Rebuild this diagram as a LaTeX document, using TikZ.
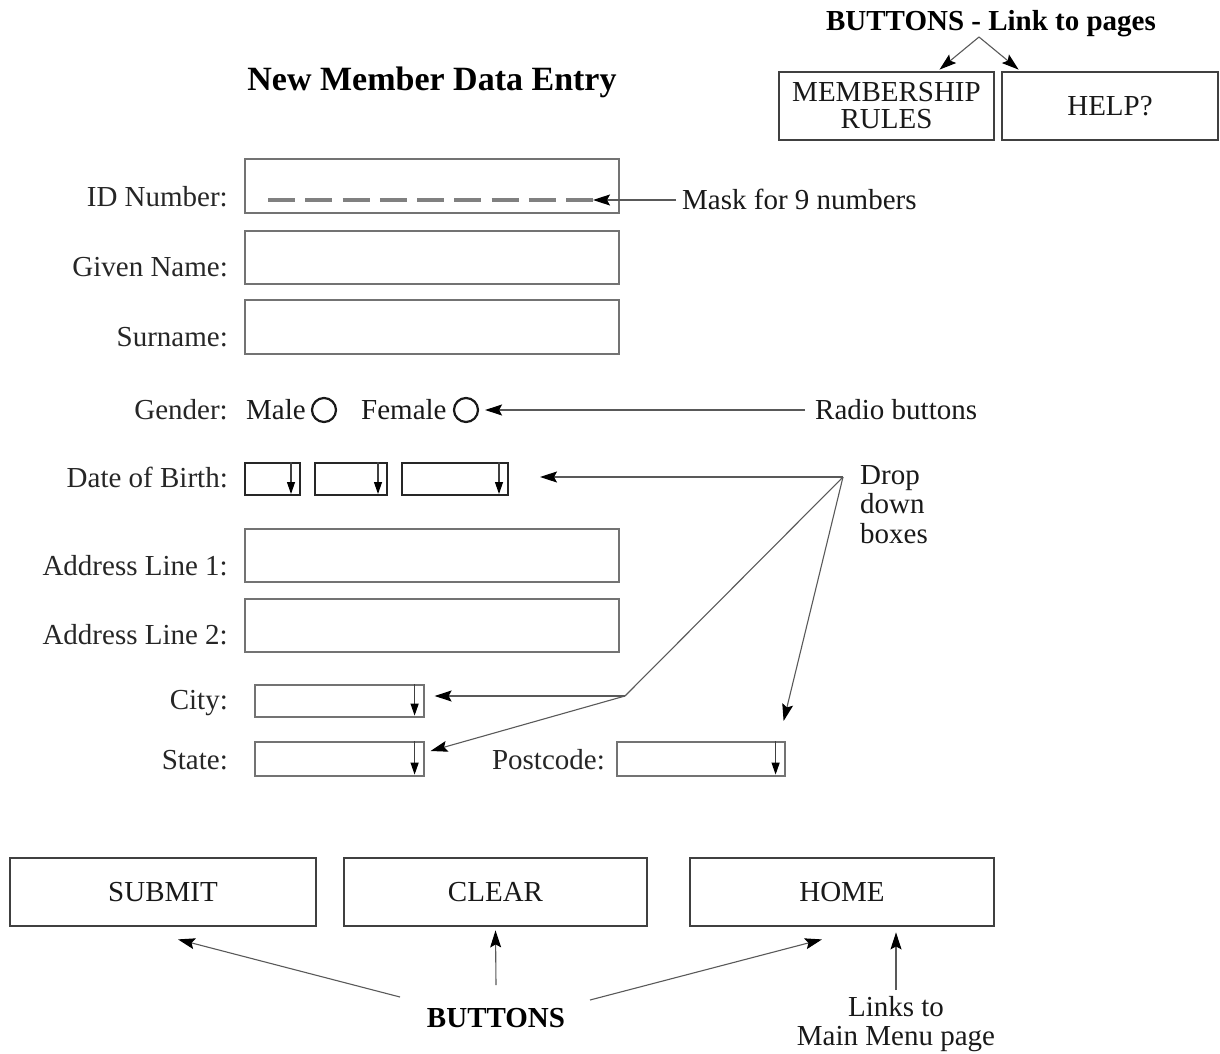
\documentclass[tikz,border=0pt]{standalone}
\usepackage{fontspec}
\setmainfont{Liberation Serif}
\usetikzlibrary{arrows.meta,calc}
\begin{document}
\begin{tikzpicture}[x=1pt,y=-1pt,
  lbl/.style={anchor=base east, inner sep=0pt, font=\fontsize{29}{31}\selectfont, text=black!85},
  txt/.style={inner sep=0pt, font=\fontsize{29}{31}\selectfont, text=black!90},
  boldtxt/.style={inner sep=0pt, font=\fontsize{29}{31}\selectfont\bfseries},
  field/.style={draw=black!55, line width=1.6pt, anchor=north west, inner sep=0pt},
  dobfield/.style={draw=black!85, line width=2pt, anchor=north west, inner sep=0pt},
  btn/.style={draw=black!75, line width=2.8pt, inner sep=0pt, align=center, font=\fontsize{29}{27}\selectfont, text=black!90},
  radio/.style={circle, draw=black!90, line width=2.2pt, minimum size=24pt, inner sep=0pt},
  conn/.style={draw=black!65, line width=1.1pt},
  arr/.style={conn, -{Stealth[length=17pt,width=11pt,inset=3pt,black]}},
  ind/.style={draw=black!75, line width=1.2pt, -{Triangle[length=12pt,width=8pt,black]}}]
\useasboundingbox (0,0) rectangle (1220,1054);

% titles
\node[inner sep=0pt, font=\fontsize{34}{36}\selectfont\bfseries, anchor=base] (title) at (432,91) {New Member Data Entry};
\node[boldtxt, anchor=base] (linkpages) at (991,31) {BUTTONS - Link to pages};

% top buttons
\node[btn, minimum width=215pt, minimum height=68pt] (rules) at (886.5,106) {MEMBERSHIP\\RULES};
\node[btn, minimum width=216pt, minimum height=68pt] (help) at (1110,106) {HELP?};
\coordinate (toparrowstart) at (979,37);
\draw[arr] (toparrowstart) -- ($(rules.north)+(53,-1)$);
\draw[arr] (toparrowstart) -- ($(help.north west)+(18,-1)$);

% text fields
\node[lbl] (lid) at (228,206) {ID Number:};
\node[field, minimum width=374pt, minimum height=54pt] (idbox) at (244,158) {};
\node[lbl] (lgiven) at (228,276) {Given Name:};
\node[field, minimum width=374pt, minimum height=53pt] (givenbox) at (244,230) {};
\node[lbl] (lsur) at (228,346) {Surname:};
\node[field, minimum width=374pt, minimum height=54pt] (surbox) at (244,299) {};

% mask
\coordinate (maskleft) at (268,200);
\coordinate (maskend) at (593,200);
\draw[line width=3.2pt, black!50, dash pattern=on 27pt off 10.25pt] (maskleft) -- (maskend);
\node[txt, anchor=base west] (masktxt) at (682,209) {Mask for 9 numbers};
\coordinate (maskstart) at (676,200);
\draw[arr] (maskstart) -- (maskend);

% gender
\node[lbl] (lgender) at (228,419) {Gender:};
\node[txt, anchor=base west] (lmale) at (246,419) {Male};
\node[radio] (male) at (324,410) {};
\node[txt, anchor=base west] (lfemale) at (361,419) {Female};
\node[radio] (female) at (466,410) {};
\node[txt, anchor=base west] (radiotxt) at (815,419) {Radio buttons};
\coordinate (radiostart) at (805,410);
\draw[arr] (radiostart) -- ($(female.east)+(6,0)$);

% date of birth
\node[lbl] (ldob) at (228,487) {Date of Birth:};
\node[dobfield, minimum width=55pt, minimum height=32pt] (dob1) at (244,462) {};
\node[dobfield, minimum width=72pt, minimum height=32pt] (dob2) at (314,462) {};
\node[dobfield, minimum width=106pt, minimum height=32pt] (dob3) at (401,462) {};
\foreach \b in {dob1,dob2,dob3}{
  \draw[ind] ($(\b.north east)+(-10,0)$) -- ($(\b.south east)+(-10,-2)$);
}

% addresses
\node[lbl] (laddr1) at (228,575) {Address Line 1:};
\node[field, minimum width=374pt, minimum height=53pt] (addr1) at (244,528) {};
\node[lbl] (laddr2) at (228,644) {Address Line 2:};
\node[field, minimum width=374pt, minimum height=53pt] (addr2) at (244,598) {};

% city / state / postcode
\node[lbl] (lcity) at (228,709) {City:};
\node[field, minimum width=169pt, minimum height=32pt] (city) at (254,684) {};
\node[lbl] (lstate) at (228,769) {State:};
\node[field, minimum width=169pt, minimum height=34pt] (state) at (254,741) {};
\node[lbl] (lpost) at (605,769) {Postcode:};
\node[field, minimum width=168pt, minimum height=34pt] (post) at (616,741) {};
\foreach \b in {city,state,post}{
  \draw[ind] ($(\b.north east)+(-10,0)$) -- ($(\b.south east)+(-10,-2)$);
}

% drop down annotation
\node[txt, anchor=north west, align=left, font=\fontsize{29}{29.5}\selectfont] (droptxt) at (860,465) {Drop\\down\\boxes};
\coordinate (apex) at (843,477);
\coordinate (junc) at (625,696);
\draw[arr] (apex) -- ($(dob3.east |- apex)+(31,0)$);
\draw[conn] (apex) -- (junc);
\draw[arr] (junc) -- ($(city.east |- junc)+(10,0)$);
\draw[arr] (junc) -- ($(state.north east)+(6,10)$);
\draw[arr] (apex) -- ($(post.north east)+(-2,-20)$);

% bottom buttons
\node[btn, minimum width=306pt, minimum height=68pt] (submit) at (163,892) {SUBMIT};
\node[btn, minimum width=303pt, minimum height=68pt] (clear) at (495.5,892) {CLEAR};
\node[btn, minimum width=304pt, minimum height=68pt] (home) at (842,892) {HOME};

\node[boldtxt, anchor=base] (buttons) at (496,1027) {BUTTONS};
\coordinate (bl) at (400,997);
\coordinate (bc) at (496,985);
\coordinate (br) at (590,1000);
\draw[arr] (bl) -- ($(submit.south)+(15,12)$);
\draw[arr] (bc) -- ($(clear.south)+(0,3)$);
\draw[arr] (br) -- ($(home.south)+(-20,12)$);

\node[txt, align=center, anchor=north, font=\fontsize{29}{29}\selectfont] (linkstxt) at (896,996) {Links to\\Main Menu page};
\coordinate (lt) at (896,990);
\draw[arr] (lt) -- ($(home.south)+(54,5)$);
\end{tikzpicture}
\end{document}
